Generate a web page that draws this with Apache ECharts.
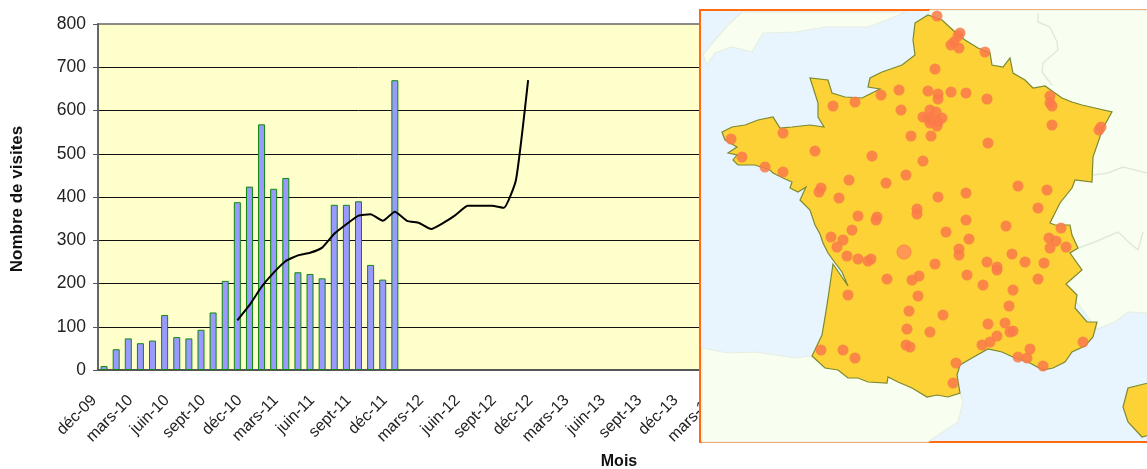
<!DOCTYPE html>
<html>
<head>
<meta charset="utf-8">
<style>
  html, body { margin: 0; padding: 0; background: #fff; }
  #chart { width: 1147px; height: 469px; }
</style>
<script src="https://cdn.jsdelivr.net/npm/echarts@6/dist/echarts.min.js"></script>
</head>
<body>
<div id="chart"></div>
<script>
  // mois de l'axe (un libellé sur trois affiché)
  const months = [
    'déc-09', 'janv-10', 'févr-10', 'mars-10', 'avr-10', 'mai-10', 'juin-10', 'juil-10', 'août-10', 'sept-10', 'oct-10', 'nov-10',
    'déc-10', 'janv-11', 'févr-11', 'mars-11', 'avr-11', 'mai-11', 'juin-11', 'juil-11', 'août-11', 'sept-11', 'oct-11', 'nov-11',
    'déc-11', 'janv-12', 'févr-12', 'mars-12', 'avr-12', 'mai-12', 'juin-12', 'juil-12', 'août-12', 'sept-12', 'oct-12', 'nov-12',
    'déc-12', 'janv-13', 'févr-13', 'mars-13', 'avr-13', 'mai-13', 'juin-13', 'juil-13', 'août-13', 'sept-13', 'oct-13', 'nov-13',
    'déc-13', 'janv-14', 'févr-14', 'mars-14', 'avr-14', 'mai-14', 'juin-14', 'juil-14', 'août-14', 'sept-14', 'oct-14', 'nov-14',
    'déc-14', 'janv-15', 'févr-15', 'mars-15', 'avr-15', 'mai-15', 'juin-15', 'juil-15', 'août-15', 'sept-15', 'oct-15', 'nov-15',
    'déc-15', 'janv-16', 'févr-16', 'mars-16', 'avr-16', 'mai-16', 'juin-16', 'juil-16', 'août-16', 'sept-16', 'oct-16', 'nov-16',
    'déc-16', 'janv-17'
  ]
  const visits = [9, 48, 73, 62, 68, 127, 76, 73, 93, 133, 206, 388, 424, 568, 419, 444, 226, 222, 212, 382, 382, 390, 243, 209, 670]
  // moyenne glissante, commence en nov-10
  const trend = [null, null, null, null, null, null, null, null, null, null, null,
    115, 150, 192, 225, 252, 265, 271, 283, 315, 337, 357, 360, 345, 366,
    345, 340, 326, 340, 358, 380, 380, 380, 375, 440, 670]
  const yTicks = [0, 100, 200, 300, 400, 500, 600, 700, 800]

  // carte: contours
  const france = [
    [915, 23], [928, 15], [942, 20], [955, 32], [965, 40], [978, 48], [990, 53], [992, 65], [1003, 67], [1010, 58],
    [1013, 73], [1025, 80], [1033, 88], [1045, 86], [1062, 98], [1072, 102], [1082, 105], [1095, 108], [1112, 112],
    [1103, 128], [1093, 157], [1092, 182], [1075, 180], [1072, 188], [1060, 203], [1050, 223], [1055, 225], [1070, 225],
    [1072, 235], [1078, 248], [1070, 253], [1082, 270], [1066, 284], [1077, 295], [1075, 308], [1087, 322], [1097, 322],
    [1093, 337], [1085, 346], [1072, 352], [1065, 362], [1053, 368], [1043, 370], [1028, 362], [1015, 358], [1002, 352],
    [988, 349], [972, 358], [960, 365], [957, 375], [960, 393], [948, 397], [937, 395], [927, 397], [912, 388], [898, 382],
    [888, 377], [887, 383], [868, 382], [858, 378], [848, 378], [838, 370], [825, 368], [812, 356], [822, 335], [827, 305],
    [833, 264], [848, 286], [842, 272], [833, 260], [828, 253], [823, 243], [820, 234], [815, 225], [810, 210], [800, 200],
    [806, 187], [798, 192], [790, 188], [792, 182], [783, 178], [773, 173], [770, 170], [755, 165], [738, 165], [733, 160],
    [737, 155], [728, 153], [737, 147], [725, 140], [722, 132], [732, 127], [745, 125], [758, 120], [773, 117], [780, 128],
    [792, 127], [810, 125], [824, 127], [818, 117], [818, 103], [810, 78], [828, 80], [832, 93], [845, 97], [862, 98],
    [880, 89], [868, 87], [870, 78], [882, 72], [902, 65], [915, 55], [913, 40]
  ]
  const corsica = [[1160, 380], [1128, 388], [1123, 407], [1128, 422], [1142, 437], [1160, 432]]
  const england = [
    [742, 12], [728, 25], [715, 40], [703, 55], [707, 65], [715, 53], [732, 47], [752, 52], [763, 33], [795, 32],
    [825, 27], [868, 27], [892, 18], [905, 12]
  ]
  const continent = [[930, 10], [1160, 10], [1160, 314], [1128, 312], [1115, 322], [1097, 329], [1000, 200], [920, 30]]
  const spain = [
    [702, 348], [728, 353], [755, 352], [775, 355], [795, 358], [812, 356], [900, 375], [960, 393], [963, 402], [958, 422],
    [928, 442], [702, 442]
  ]
  const bordersLux = [[1038, 13], [1038, 22], [1050, 27], [1057, 42], [1058, 50], [1043, 63], [1042, 72], [1052, 85]]
  const bordersSwiss = [[1093, 175], [1108, 173], [1123, 167], [1147, 173]]
  const bordersItaly = [[1078, 248], [1095, 242], [1118, 232], [1132, 245], [1138, 250], [1143, 232]]
  const cities = [
    [937, 16], [960, 33], [958, 36], [954, 42], [951, 45], [959, 48], [985, 52], [935, 69], [1050, 96], [1050, 103], [1052, 106],
    [881, 95], [899, 90], [928, 91], [938, 94], [938, 99], [951, 92], [966, 93], [987, 99], [855, 102], [833, 106], [901, 110],
    [930, 110], [936, 112], [923, 117], [928, 118], [932, 120], [942, 118], [938, 122], [937, 126], [930, 123],
    [1052, 125], [1101, 127], [1099, 130], [783, 133], [731, 139], [911, 136], [931, 136], [988, 143], [815, 151], [872, 156],
    [742, 157], [923, 161], [765, 167], [783, 172], [906, 175], [849, 180], [886, 183], [1018, 186], [1047, 190], [821, 188],
    [819, 192], [966, 193], [938, 197], [839, 198], [1038, 208], [917, 209], [917, 214], [858, 216], [877, 217], [876, 220],
    [966, 220], [1006, 226], [852, 230], [946, 232], [1061, 228], [831, 237], [843, 240], [969, 239], [1049, 238], [1056, 241],
    [837, 247], [1050, 248], [1066, 247], [959, 249], [959, 255], [1012, 254], [847, 256], [858, 259], [871, 259], [868, 261],
    [987, 262], [1025, 262], [1044, 263], [935, 264], [997, 267], [997, 270], [967, 275], [919, 276], [912, 280], [887, 279],
    [1038, 279], [983, 285], [1013, 290], [848, 295], [918, 296], [1009, 306], [909, 311], [943, 315], [988, 324], [1005, 323],
    [907, 329], [930, 332], [1013, 331], [1010, 332], [997, 336], [990, 342], [982, 345], [906, 345], [910, 347], [1083, 342],
    [1030, 349], [821, 350], [843, 350], [855, 358], [1018, 357], [1027, 358], [1043, 366], [956, 363], [953, 383]
  ]
  const bigCities = [[904, 252]]

  const textColor = '#222'
  const fontFamily = '"Liberation Sans", Arial, sans-serif'

  // polygone sur les axes cachés de la carte
  const polygonSeries = (points, fill, stroke, z) => ({
    type: 'custom',
    xAxisIndex: 1,
    yAxisIndex: 1,
    z,
    silent: true,
    clip: false,
    data: [0],
    renderItem: (params, api) => ({
      type: 'polygon',
      shape: { points: points.map((p) => api.coord(p)) },
      style: { fill, stroke, lineWidth: 1.2 },
    }),
  })

  const borderSeries = (points) => ({
    type: 'line',
    xAxisIndex: 1,
    yAxisIndex: 1,
    z: 7,
    silent: true,
    symbol: 'none',
    data: points,
    lineStyle: { color: '#e2e9dc', width: 1.5 },
  })

  const myChart = echarts.init(document.getElementById('chart'), null, { renderer: 'canvas' })

  myChart.setOption({
    animation: false,
    backgroundColor: '#fff',
    textStyle: { fontFamily },
    grid: [
      {
        left: 98,
        top: 24,
        width: 1042,
        height: 346,
        outerBoundsMode: 'none',
        show: true,
        backgroundColor: '#FFFFCC',
        borderColor: '#666',
        borderWidth: 1.5,
      },
      // cadre de la carte, par-dessus le graphique
      {
        left: 700,
        top: 10,
        width: 460,
        height: 432,
        outerBoundsMode: 'none',
        show: true,
        z: 5,
        backgroundColor: '#E8F5FE',
        borderColor: '#FF6A13',
        borderWidth: 2,
      },
    ],
    xAxis: [
      {
        type: 'category',
        data: months,
        name: 'Mois',
        nameLocation: 'middle',
        nameGap: 84,
        nameTextStyle: { color: '#111', fontSize: 16, fontWeight: 'bold', fontFamily },
        axisLine: { lineStyle: { color: '#555', width: 2 } },
        axisTick: { interval: 2, length: 5, lineStyle: { color: '#555', width: 1 } },
        axisLabel: {
          interval: 2,
          rotate: 45,
          margin: 18,
          color: textColor,
          fontSize: 16,
          fontFamily,
          padding: [0, 14, 0, 0],
        },
      },
      { type: 'value', gridIndex: 1, min: 700, max: 1160, show: false },
    ],
    yAxis: [
      {
        type: 'value',
        min: yTicks[0],
        max: yTicks[yTicks.length - 1],
        interval: 100,
        name: 'Nombre de visites',
        nameLocation: 'middle',
        nameGap: 72,
        nameTextStyle: { color: '#111', fontSize: 17, fontWeight: 'bold', fontFamily, padding: [0, 4, 0, 0] },
        axisLine: { show: true, lineStyle: { color: '#666', width: 2 } },
        axisTick: { show: true, length: 5, lineStyle: { color: '#555', width: 1 } },
        axisLabel: { margin: 12, color: textColor, fontSize: 17.5, fontFamily },
        splitLine: { show: true, showMaxLine: false, lineStyle: { color: '#111', width: 1 } },
      },
      { type: 'value', gridIndex: 1, min: 10, max: 442, inverse: true, show: false },
    ],
    series: [
      {
        name: 'Visites',
        type: 'bar',
        data: visits,
        barWidth: 7,
        itemStyle: { color: '#9999FF', borderColor: '#0A8A0A', borderWidth: 1 },
      },
      {
        name: 'Moyenne',
        type: 'line',
        data: trend,
        symbol: 'none',
        smooth: 0.15,
        lineStyle: { color: '#000', width: 2 },
      },
      polygonSeries(england, '#F9FFF0', '#e6eee2', 6),
      polygonSeries(continent, '#F9FFF0', '#e6eee2', 6),
      polygonSeries(spain, '#F9FFF0', '#e6eee2', 6),
      borderSeries(bordersLux),
      borderSeries(bordersSwiss),
      borderSeries(bordersItaly),
      polygonSeries(france, '#FCD237', '#7A8A30', 8),
      polygonSeries(corsica, '#FCD237', '#7A8A30', 8),
      {
        type: 'scatter',
        xAxisIndex: 1,
        yAxisIndex: 1,
        z: 9,
        silent: true,
        symbolSize: 11,
        data: cities,
        itemStyle: { color: '#FA7A4A', opacity: 0.85 },
      },
      {
        type: 'scatter',
        xAxisIndex: 1,
        yAxisIndex: 1,
        z: 9,
        silent: true,
        symbolSize: 14,
        data: bigCities,
        itemStyle: { color: '#FF8A5C', borderColor: '#F47A45', borderWidth: 1 },
      },
    ],
  })
</script>
</body>
</html>
